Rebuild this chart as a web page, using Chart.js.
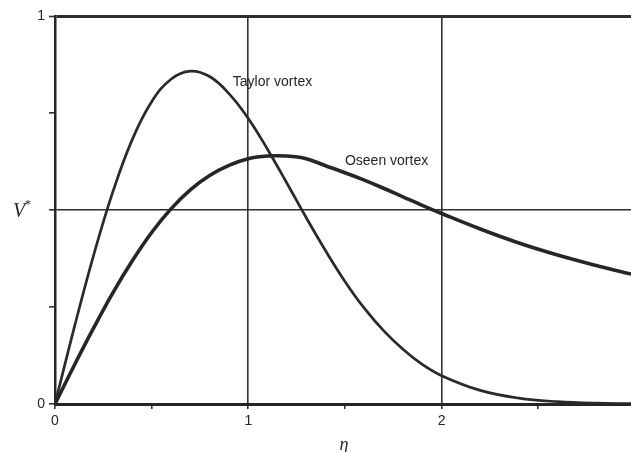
<!DOCTYPE html>
<html>
<head>
<meta charset="utf-8">
<script src="https://cdn.jsdelivr.net/npm/chart.js@4/dist/chart.umd.min.js"></script>
<style>
  html, body { margin: 0; padding: 0; background: #fff; }
  #wrap { width: 631px; height: 452px; }
</style>
</head>
<body>
<div id="wrap"><canvas id="c" width="631" height="452"></canvas></div>
<script>
// eta values and dimensionless velocity V* for both vortices
const eta = [0, 0.1, 0.2, 0.3, 0.4, 0.5, 0.6, 0.7, 0.8, 0.9, 1.0, 1.1, 1.2, 1.3, 1.4, 1.5,
             1.6, 1.7, 1.8, 1.9, 2.0, 2.2, 2.4, 2.6, 2.8, 2.98];
const taylor = [0, 0.198, 0.384, 0.548, 0.682, 0.779, 0.837, 0.858, 0.844, 0.800, 0.736, 0.656, 0.569, 0.480,
                0.395, 0.316, 0.247, 0.189, 0.141, 0.102, 0.073, 0.035, 0.015, 0.006, 0.002, 0.001];
const oseen = [0, 0.100, 0.196, 0.287, 0.369, 0.442, 0.503, 0.552, 0.589, 0.615, 0.632, 0.639, 0.639, 0.632,
               0.614, 0.596, 0.577, 0.556, 0.534, 0.512, 0.491, 0.451, 0.415, 0.384, 0.357, 0.335];

const xTicks = [0, 0.5, 1, 1.5, 2, 2.5];
const yTicks = [0, 0.25, 0.5, 0.75, 1];
const xLabels = { 0: "0", 1: "1", 2: "2" };
const yLabels = { 0: "0", 1: "1" };

const ink = "#262626";

const pts = arr => arr.map((v, i) => ({ x: eta[i], y: v }));

// curve names, axis symbols
const annotate = {
  id: "annotate",
  afterDraw(chart) {
    const { ctx, scales: { x, y } } = chart;
    ctx.save();
    ctx.fillStyle = ink;
    ctx.textBaseline = "middle";
    ctx.font = "14px 'Liberation Sans', Arial, sans-serif";
    ctx.textAlign = "left";
    ctx.fillText("Taylor vortex", x.getPixelForValue(0.92), y.getPixelForValue(0.83));
    ctx.fillText("Oseen vortex", x.getPixelForValue(1.50), y.getPixelForValue(0.625));

    ctx.font = "italic 18px 'Liberation Serif', 'DejaVu Serif', serif";
    ctx.textAlign = "center";
    ctx.fillText("\u03b7", 344, 445);
    ctx.font = "italic 20px 'Liberation Serif', 'DejaVu Serif', serif";
    ctx.fillText("V", 19, 212);
    ctx.font = "12px 'Liberation Serif', serif";
    ctx.fillText("*", 28, 205);
    ctx.restore();
  }
};

new Chart(document.getElementById("c"), {
  type: "line",
  data: {
    datasets: [
      {
        label: "Taylor vortex",
        data: pts(taylor),
        borderColor: "#2a2a2a",
        borderWidth: 2.7,
        pointRadius: 0,
        tension: 0.4
      },
      {
        label: "Oseen vortex",
        data: pts(oseen),
        borderColor: "#262626",
        borderWidth: 3.6,
        pointRadius: 0,
        tension: 0.4
      }
    ]
  },
  options: {
    responsive: false,
    animation: false,
    layout: { padding: { top: 16, right: 0, left: 0, bottom: 0 } },
    plugins: { legend: { display: false }, tooltip: { enabled: false } },
    scales: {
      x: {
        type: "linear",
        min: 0,
        max: 2.98,
        afterBuildTicks: s => { s.ticks = xTicks.map(v => ({ value: v })); },
        afterFit: s => { s.height = 48; },
        ticks: {
          autoSkip: false,
          maxRotation: 0,
          padding: 4,
          color: ink,
          font: { family: "'Liberation Sans', Arial, sans-serif", size: 14 },
          callback: v => xLabels[v] ?? ""
        },
        grid: {
          color: c => (c.tick && (c.tick.value === 1 || c.tick.value === 2)) ? "#333" : "rgba(0,0,0,0)",
          lineWidth: 1.6,
          tickColor: "#333",
          tickLength: 5,
          tickWidth: 1.6
        },
        border: { display: true, color: ink, width: 3 }
      },
      y: {
        min: 0,
        max: 1,
        afterBuildTicks: s => { s.ticks = yTicks.map(v => ({ value: v })); },
        afterFit: s => { s.width = 55; },
        ticks: {
          padding: 4,
          color: ink,
          font: { family: "'Liberation Sans', Arial, sans-serif", size: 14 },
          callback: v => yLabels[v] ?? ""
        },
        grid: {
          color: c => {
            if (!c.tick) return "rgba(0,0,0,0)";
            return (c.tick.value === 0.5 || c.tick.value === 1) ? "#2e2e2e" : "rgba(0,0,0,0)";
          },
          lineWidth: c => (c.tick && c.tick.value === 1) ? 3 : 1.6,
          tickColor: "#333",
          tickLength: 6,
          tickWidth: 1.6
        },
        border: { display: true, color: ink, width: 2.5 }
      }
    }
  },
  plugins: [annotate]
});
</script>
</body>
</html>
